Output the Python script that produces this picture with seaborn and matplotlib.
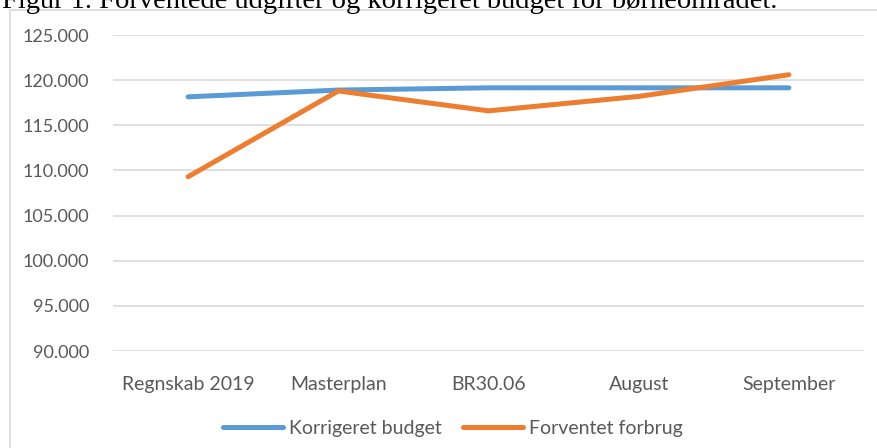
import pandas as pd
import seaborn as sns
import matplotlib.pyplot as plt
from matplotlib.patches import Rectangle
from matplotlib.ticker import FuncFormatter

# Data
categories = ['Regnskab 2019', 'Masterplan', 'BR30.06', 'August', 'September']
korrigeret_budget = [118150, 118900, 119150, 119150, 119150]
forventet_forbrug = [109300, 118800, 116600, 118200, 120600]

df = pd.DataFrame({
    'kategori': categories * 2,
    'x': list(range(len(categories))) * 2,
    'value': korrigeret_budget + forventet_forbrug,
    'serie': ['Korrigeret budget'] * 5 + ['Forventet forbrug'] * 5,
})

sns.set_theme(style='white')
plt.rcParams['font.family'] = ['Lato', 'DejaVu Sans']

fig = plt.figure(figsize=(8.78, 4.48), dpi=100)
ax = fig.add_axes([113 / 878, 1 - 351 / 448, (864 - 113) / 878, (351 - 35) / 448])

# chart border
fig.patches.append(Rectangle((10 / 878, -0.05), 1.0, 1 - 10 / 448 + 0.05,
                             transform=fig.transFigure, fill=False,
                             edgecolor='#d9d9d9', linewidth=1.2))

# caption above the chart (cut at the top edge, like in the source)
fig.text(2 / 878, 1 - 8 / 448, 'Figur 1. Forventede udgifter og korrigeret budget for børneområdet.',
         family='Liberation Serif', fontsize=20.5, va='baseline', ha='left', color='black')

sns.lineplot(data=df, x='x', y='value', hue='serie',
             palette={'Korrigeret budget': '#5b9bd5', 'Forventet forbrug': '#ed7d31'},
             linewidth=3.6, ax=ax)

ax.set_xlim(-0.5, 4.5)
ax.set_ylim(90000, 125000)
ax.set_yticks(range(90000, 125001, 5000))
ax.yaxis.set_major_formatter(FuncFormatter(lambda v, p: f'{int(v):,}'.replace(',', '.')))
ax.set_xticks(range(len(categories)))
ax.set_xticklabels(categories)
ax.grid(axis='y', color='#d9d9d9', linewidth=1.2)
ax.set_axisbelow(True)
for s in ax.spines.values():
    s.set_visible(False)
ax.tick_params(axis='both', length=0, labelcolor='#595959')
ax.tick_params(axis='x', pad=18, labelsize=14)
ax.tick_params(axis='y', pad=17, labelsize=13)
ax.set_xlabel('')
ax.set_ylabel('')

ax.legend(loc='center', bbox_to_anchor=(453 / 878, 1 - 428 / 448),
          bbox_transform=fig.transFigure, ncol=2, frameon=False,
          fontsize=14, labelcolor='#595959', handlelength=3.1,
          columnspacing=1.1, handletextpad=0.3)

fig.savefig('out.png', dpi=100)
